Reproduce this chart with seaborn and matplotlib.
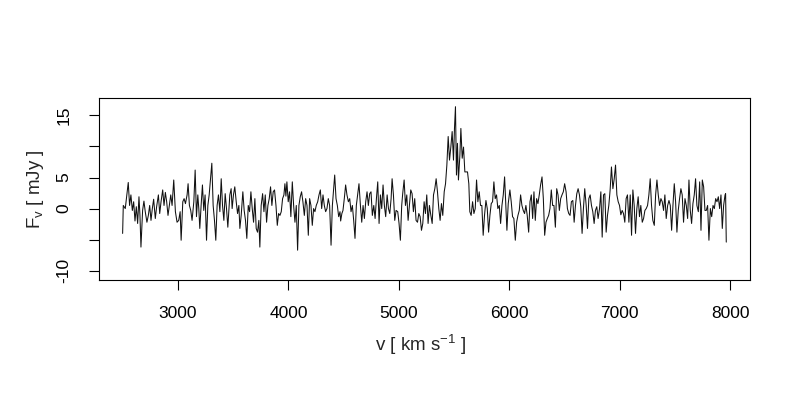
import matplotlib
matplotlib.use("Agg")
import matplotlib.pyplot as plt
import seaborn as sns
import pandas as pd

# Spectrum: velocity [km/s] and flux density [mJy]
velocity = [
    2498, 2504, 2522, 2549, 2561, 2573, 2586, 2598, 2610, 2622, 2634, 2646, 2655, 2664, 2679, 2691,
    2703, 2718, 2731, 2743, 2755, 2767, 2779, 2794, 2806, 2822, 2834, 2846, 2861, 2873, 2885, 2897,
    2909, 2921, 2934, 2946, 2961, 2976, 2991, 3006, 3019, 3028, 3043, 3055, 3067, 3082, 3091, 3103,
    3115, 3127, 3143, 3155, 3167, 3179, 3188, 3197, 3209, 3221, 3233, 3245, 3258, 3270, 3282, 3294,
    3306, 3318, 3330, 3342, 3354, 3366, 3379, 3391, 3403, 3415, 3427, 3439, 3451, 3469, 3481, 3490,
    3502, 3514, 3527, 3539, 3551, 3560, 3572, 3587, 3599, 3611, 3623, 3636, 3648, 3660, 3672, 3684,
    3696, 3708, 3720, 3732, 3741, 3753, 3766, 3778, 3790, 3802, 3814, 3826, 3838, 3850, 3862, 3874,
    3887, 3899, 3911, 3923, 3935, 3947, 3959, 3968, 3977, 3986, 3998, 4010, 4022, 4035, 4047, 4059,
    4071, 4083, 4095, 4107, 4119, 4131, 4144, 4156, 4168, 4180, 4192, 4204, 4216, 4228, 4240, 4252,
    4265, 4277, 4289, 4301, 4313, 4325, 4337, 4349, 4361, 4373, 4386, 4398, 4410, 4419, 4431, 4443,
    4455, 4467, 4473, 4484, 4494, 4506, 4518, 4530, 4543, 4555, 4567, 4579, 4591, 4603, 4615, 4627,
    4639, 4652, 4664, 4676, 4688, 4700, 4712, 4724, 4736, 4748, 4760, 4773, 4785, 4797, 4809, 4821,
    4833, 4845, 4857, 4869, 4881, 4894, 4906, 4918, 4930, 4939, 4951, 4963, 4975, 4990, 5002, 5014,
    5026, 5035, 5048, 5060, 5072, 5084, 5096, 5108, 5120, 5132, 5144, 5156, 5169, 5181, 5193, 5205,
    5217, 5229, 5241, 5253, 5265, 5277, 5290, 5302, 5314, 5326, 5338, 5350, 5362, 5374, 5386, 5398,
    5411, 5423, 5435, 5447, 5459, 5471, 5483, 5495, 5504, 5513, 5522, 5531, 5540, 5553, 5562, 5574,
    5586, 5598, 5610, 5622, 5634, 5643, 5655, 5668, 5680, 5692, 5704, 5716, 5728, 5740, 5752, 5764,
    5776, 5789, 5801, 5813, 5825, 5837, 5849, 5861, 5873, 5885, 5897, 5910, 5922, 5934, 5946, 5958,
    5970, 5979, 5991, 6006, 6018, 6030, 6042, 6055, 6067, 6079, 6091, 6103, 6115, 6127, 6139, 6151,
    6163, 6176, 6188, 6200, 6212, 6224, 6236, 6248, 6260, 6272, 6284, 6297, 6309, 6321, 6333, 6345,
    6357, 6369, 6381, 6393, 6405, 6418, 6430, 6442, 6454, 6466, 6478, 6490, 6502, 6515, 6527, 6539,
    6551, 6563, 6576, 6588, 6600, 6612, 6624, 6636, 6648, 6660, 6672, 6684, 6697, 6709, 6721, 6733,
    6745, 6757, 6769, 6781, 6793, 6805, 6818, 6830, 6842, 6854, 6866, 6878, 6890, 6902, 6914, 6926,
    6939, 6951, 6963, 6975, 6987, 6999, 7011, 7023, 7035, 7047, 7059, 7071, 7084, 7096, 7108, 7120,
    7132, 7144, 7156, 7168, 7180, 7192, 7205, 7217, 7229, 7241, 7253, 7265, 7277, 7289, 7301, 7314,
    7326, 7338, 7350, 7362, 7374, 7386, 7398, 7410, 7422, 7435, 7447, 7459, 7471, 7483, 7495, 7507,
    7519, 7531, 7543, 7555, 7567, 7579, 7592, 7604, 7616, 7628, 7640, 7652, 7664, 7676, 7688, 7700,
    7713, 7725, 7737, 7749, 7761, 7773, 7785, 7797, 7809, 7822, 7834, 7846, 7858, 7870, 7882, 7894,
    7906, 7918, 7930, 7942, 7955, 7960, 7966,
]
flux = [
    -4.0, 0.5, 0.0, 4.2, 0.5, 2.2, -0.3, 1.1, -2.0, 0.3, -2.4, 1.9, -1.1, -6.2, -0.3, 1.2,
    -0.5, -2.2, -1.1, 0.5, -1.9, 0.0, 1.5, -1.6, 0.3, 2.2, -0.8, 1.1, 3.0, 0.5, 2.6, 1.1,
    -1.1, 0.5, 2.2, 0.5, 4.6, -0.5, -2.2, -1.9, -0.5, -5.1, 1.1, 1.6, 0.8, 2.2, 4.0, 0.5,
    -0.3, -1.9, 1.1, 6.2, -1.3, 2.2, 0.0, -3.2, 0.5, 3.8, -0.3, 2.2, -5.1, 0.5, 2.2, 4.8,
    7.3, 0.5, -1.9, -5.1, 0.5, 2.2, -0.5, 4.8, 0.5, -1.9, 2.4, 0.0, -3.0, 2.2, 3.2, 0.0,
    2.2, 3.5, 1.1, -0.8, 0.5, -3.2, -1.1, 2.7, -0.3, -1.9, -4.8, 0.5, -0.5, 2.7, 0.0, -2.2,
    1.6, -3.2, -3.8, -1.9, -6.2, 0.5, 2.4, -0.5, 2.2, -2.2, 0.5, 1.6, 3.5, 0.5, 2.7, 3.0,
    0.5, -2.7, -0.8, -1.1, -0.5, 1.6, 2.2, 4.0, 2.0, 4.3, 1.1, 2.7, -1.3, 4.3, 0.5, -2.2,
    0.5, -6.7, 0.5, 1.9, 2.7, 1.1, -1.1, 1.6, 0.5, -4.3, 1.6, 0.5, -2.7, 0.0, -0.5, 0.5,
    1.1, 2.2, 3.0, 0.0, 2.2, 0.5, -0.5, 0.0, 1.6, 0.5, -5.9, 0.5, 3.2, 5.4, 1.6, 0.5,
    -1.3, -0.5, -2.0, -0.8, -0.3, 1.6, 3.8, 2.2, 1.1, 1.6, -0.5, 0.5, -1.9, -4.8, 0.5, 2.2,
    4.0, 0.5, -2.2, 0.5, -1.6, 1.1, 2.7, 0.5, 2.4, 2.7, -1.1, 0.5, -1.6, 1.6, 4.3, -2.4,
    2.2, 0.0, 3.8, 0.5, -1.3, 2.2, 0.0, -0.8, 1.6, 4.8, 2.2, -1.9, -0.3, -0.5, -2.4, -5.1,
    0.5, 2.4, 4.6, 0.5, 2.2, -1.9, 0.5, 3.0, 2.4, -0.5, 1.6, -1.9, -2.2, -0.8, -1.3, -3.5,
    -2.4, 1.1, -0.8, 2.2, -2.4, 0.5, -1.1, -2.4, 2.2, 3.2, 4.8, 2.7, 0.0, -1.9, 0.8, -1.1,
    2.7, 4.0, 7.0, 11.6, 7.8, 9.9, 12.4, 7.8, 12.9, 16.4, 5.4, 10.5, 4.6, 8.6, 12.9, 8.1,
    9.9, 5.9, 5.9, 5.9, 4.0, -0.5, -1.1, 1.1, -0.8, 0.0, 4.6, 1.1, 2.7, 0.5, 0.5, -4.3,
    -1.1, 1.3, 0.0, -3.8, -1.1, 0.8, 1.1, 4.3, 1.6, 2.2, 0.0, 0.5, -2.4, 0.5, 2.2, 5.1,
    0.0, -3.5, 0.8, 3.0, 1.1, -1.3, -1.6, -5.1, -2.2, -1.1, -0.3, 2.2, 0.5, -0.3, -0.8, 0.5,
    -1.1, -3.8, 1.1, 2.2, -1.6, 2.7, -1.9, 1.6, 0.8, 2.2, 3.8, 5.1, 1.6, -4.3, -2.2, -1.6,
    -1.1, 0.0, 3.0, 0.5, 0.5, -3.0, 3.2, 2.2, -0.3, 1.6, 2.2, 2.7, 4.0, 2.7, 0.0, -0.8,
    -1.1, 1.1, 1.3, -2.2, 0.5, 2.4, 3.2, 2.2, 0.3, -4.0, 0.0, 3.2, 0.5, -3.2, 1.6, 2.2,
    0.5, -0.5, -2.4, -0.3, 0.3, -1.6, 0.0, 2.7, -4.6, 2.2, 2.4, -3.8, -1.1, 0.5, 3.0, 6.7,
    3.2, 4.8, 7.0, 2.2, 1.1, 0.5, -1.0, -0.3, -0.8, -2.2, 1.6, 2.2, -2.2, 2.2, -4.3, 3.0,
    0.5, -4.0, 0.0, 1.9, -1.3, 0.5, -2.2, -1.6, -0.3, 0.0, 0.5, 2.2, 4.8, 0.5, -1.9, -2.7,
    2.2, 4.6, 2.2, 0.5, 1.6, 1.1, -0.3, 2.2, -1.6, 0.5, 1.3, 0.5, -3.5, 0.5, 4.0, 1.1,
    -3.8, -0.3, 1.6, 3.2, 2.2, -2.2, 1.6, 0.5, -1.6, 4.6, -0.3, -2.4, 0.8, 2.2, 4.8, 0.5,
    -0.5, 4.3, -3.5, 4.6, 3.5, -0.3, -0.3, 0.5, -5.1, 0.0, -1.3, 0.5, 0.0, 1.6, 1.1, 1.9,
    0.0, 2.2, -3.2, 0.5, 2.2, 2.4, -5.4,
]

x_ticks = [3000, 4000, 5000, 6000, 7000, 8000]
x_tick_labels = ["3000", "4000", "5000", "6000", "7000", "8000"]
y_ticks = [-10, -5, 0, 5, 10, 15]
y_tick_labels = ["-10", "", "0", "5", "", "15"]
x_label = "v [ km s$^{-1}$ ]"
y_label = "F$_{v}$ [ mJy ]"

sns.set_style("white")
plt.rcParams["font.family"] = ["Liberation Sans", "DejaVu Sans"]
plt.rcParams["mathtext.fontset"] = "custom"
plt.rcParams["mathtext.rm"] = "Liberation Sans"
plt.rcParams["mathtext.it"] = "Liberation Sans"
plt.rcParams["mathtext.bf"] = "Liberation Sans"
plt.rcParams["mathtext.default"] = "regular"

fig = plt.figure(figsize=(8, 4), dpi=100)
ax = fig.add_axes([99 / 800, 1 - 280 / 400, 651 / 800, 182 / 400])

df = pd.DataFrame({"velocity": velocity, "flux": flux})
sns.lineplot(data=df, x="velocity", y="flux", ax=ax, color="#111111",
             linewidth=0.75, sort=False, estimator=None)

ax.set_xlim(2284, 8181)
ax.set_ylim(-11.5, 17.8)
ax.set_xticks(x_ticks)
ax.set_xticklabels(x_tick_labels)
ax.set_yticks(y_ticks)
ax.set_yticklabels(y_tick_labels, rotation=90, va="center")
ax.tick_params(axis="both", direction="out", length=7, width=0.8, color="black",
               labelsize=12.5, labelcolor="black")
ax.tick_params(axis="x", pad=11.5)
ax.tick_params(axis="y", pad=13)
ax.tick_params(left=True, bottom=True)
for s in ax.spines.values():
    s.set_visible(True)
    s.set_color("black")
    s.set_linewidth(0.8)
ax.set_xlabel("")
ax.set_ylabel("")
ax.grid(False)

fig.text(421 / 800, 1 - 345 / 400, x_label, ha="center", va="center", fontsize=13.5)
fig.text(35 / 800, 1 - 189 / 400, y_label, rotation=90, ha="center", va="center", fontsize=13.5)

fig.savefig("out.png", dpi=100)
